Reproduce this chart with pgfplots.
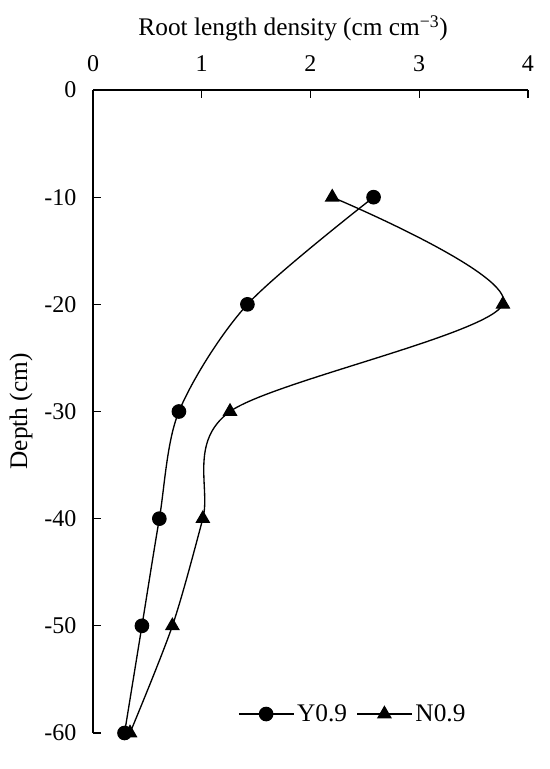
\documentclass[border=0pt]{standalone}
\usepackage{pgfplots}
\pgfplotsset{compat=1.18}
\usepackage{fontspec}
\setmainfont{Liberation Serif}

\begin{document}
\begin{tikzpicture}
  \begin{axis}[
    scale only axis,
    width=326.25pt, height=482.25pt,
    xmin=0, xmax=4, ymin=-60, ymax=0,
    axis x line=top, axis y line=left,
    axis line style={-, line width=1pt},
    xtick={0,1,2,3,4},
    ytick={-60,-50,-40,-30,-20,-10,0},
    tick align=inside,
    major tick length=6pt,
    tick style={black, line width=0.8pt},
    /pgf/number format/assume math mode=true,
    ticklabel style={font=\fontsize{18}{21}\selectfont},
    xticklabel style={yshift=10pt},
    yticklabel style={xshift=-9pt},
    xlabel={Root length density (cm cm\textsuperscript{−3})},
    ylabel={Depth (cm)},
    label style={font=\fontsize{19}{22}\selectfont},
    xlabel style={yshift=4pt, xshift=-13pt},
    ylabel style={yshift=2pt},
    legend style={draw=none, fill=none, at={(0.598,0.0295)}, anchor=center,
      font=\fontsize{19}{22}\selectfont,
      /tikz/every even column/.append style={column sep=5pt}},
    legend columns=2,
    legend image code/.code={
      \draw[mark repeat=2, mark phase=2, #1]
        plot coordinates {(0cm,0cm) (0.72cm,0cm) (1.45cm,0cm)};
    },
    clip=false,
  ]
    % Y0.9
    \addplot[black, line width=1pt, smooth, mark=*, mark size=5pt]
      coordinates {
        (2.58,-10) (1.42,-20) (0.79,-30) (0.61,-40) (0.45,-50) (0.29,-60)
      };
    \addlegendentry{Y0.9}
    % N0.9
    \addplot[black, line width=1pt, smooth, mark=triangle*, mark size=5.5pt]
      coordinates {
        (2.20,-10) (3.77,-20) (1.26,-30) (1.01,-40) (0.73,-50) (0.34,-60)
      };
    \addlegendentry{N0.9}

    \coordinate (bl) at (rel axis cs:-0.2138,-0.056);
    \coordinate (tr) at (rel axis cs:1.0506,1.14);
  \end{axis}
  \pgfresetboundingbox
  \useasboundingbox (bl) rectangle (tr);
\end{tikzpicture}
\end{document}
